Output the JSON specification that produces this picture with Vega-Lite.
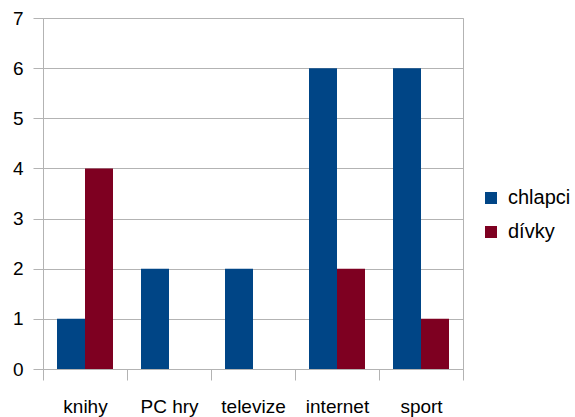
{
  "$schema": "https://vega.github.io/schema/vega-lite/v6.json",
  "width": 420,
  "height": 351,
  "autosize": {"type": "none"},
  "padding": {"left": 43, "top": 18, "right": 112, "bottom": 48},
  "background": "white",
  "config": {
    "font": "Liberation Sans",
    "view": {"stroke": "#b3b3b3", "strokeWidth": 1},
    "axis": {"labelFont": "Liberation Sans", "labelFontSize": 19, "labelColor": "#000000", "tickColor": "#b3b3b3", "gridColor": "#b3b3b3", "domain": false}
  },
  "data": {
    "values": [
      {"kategorie": "knihy", "skupina": "chlapci", "pocet": 1},
      {"kategorie": "knihy", "skupina": "dívky", "pocet": 4},
      {"kategorie": "PC hry", "skupina": "chlapci", "pocet": 2},
      {"kategorie": "PC hry", "skupina": "dívky", "pocet": 0},
      {"kategorie": "televize", "skupina": "chlapci", "pocet": 2},
      {"kategorie": "televize", "skupina": "dívky", "pocet": 0},
      {"kategorie": "internet", "skupina": "chlapci", "pocet": 6},
      {"kategorie": "internet", "skupina": "dívky", "pocet": 2},
      {"kategorie": "sport", "skupina": "chlapci", "pocet": 6},
      {"kategorie": "sport", "skupina": "dívky", "pocet": 1}
    ]
  },
  "mark": {"type": "bar"},
  "encoding": {
    "x": {
      "field": "kategorie", "type": "nominal", "sort": ["knihy", "PC hry", "televize", "internet", "sport"],
      "scale": {"paddingInner": 0, "paddingOuter": 0},
      "axis": {"title": null, "labelAngle": 0, "tickBand": "extent", "tickSize": 11, "labelPadding": 17, "grid": false}
    },
    "xOffset": {"field": "skupina", "type": "nominal", "scale": {"paddingInner": 0, "paddingOuter": 0.5}},
    "y": {
      "field": "pocet", "type": "quantitative",
      "scale": {"domain": [0, 7], "nice": false},
      "axis": {"title": null, "values": [0, 1, 2, 3, 4, 5, 6, 7], "tickSize": 10, "labelPadding": 10, "grid": true}
    },
    "color": {
      "field": "skupina", "type": "nominal",
      "scale": {"domain": ["chlapci", "dívky"], "range": ["#004586", "#7e0021"]},
      "legend": {"title": null, "orient": "none", "legendX": 438, "legendY": 170, "symbolType": "square", "symbolSize": 144, "symbolStrokeWidth": 0, "labelFontSize": 20, "labelColor": "#000000", "labelFont": "Liberation Sans", "rowPadding": 14, "labelOffset": 7}
    }
  }
}
